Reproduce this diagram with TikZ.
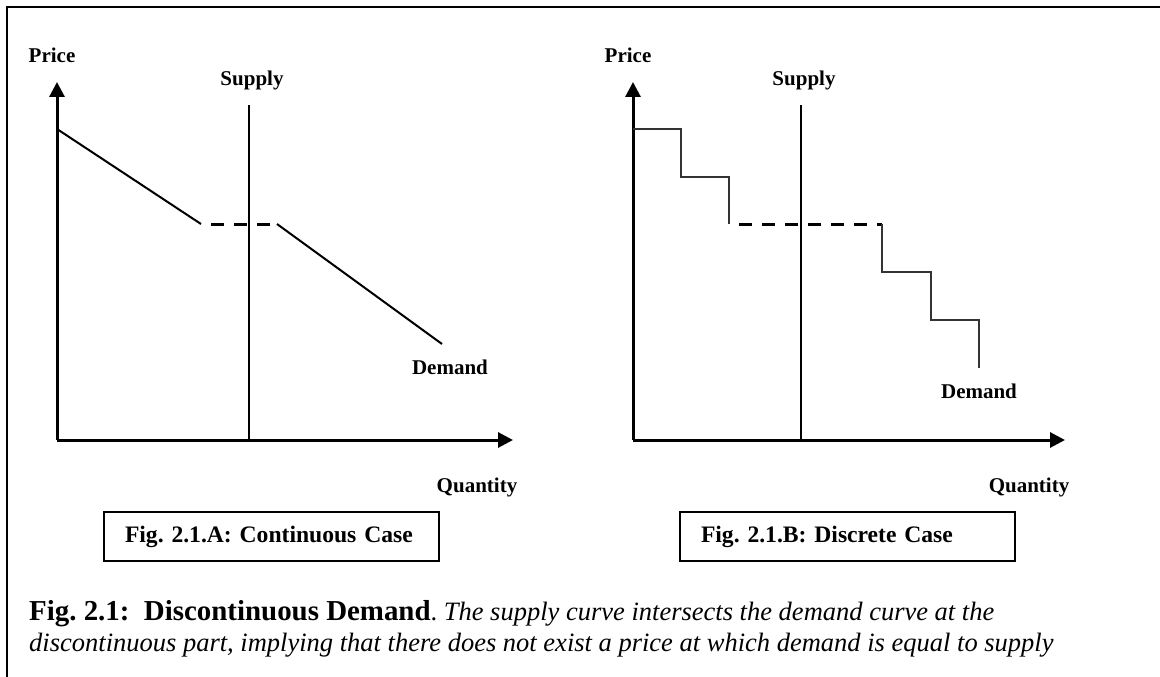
\documentclass[tikz,border=0pt]{standalone}
\usepackage{fontspec}
\setmainfont{Liberation Serif}
\frenchspacing
\usetikzlibrary{arrows.meta, positioning}

\tikzset{
  axis/.style={line width=3pt, -{Triangle[length=15pt,width=15pt]}},
  tag/.style={font=\fontsize{21}{25}\selectfont\bfseries, inner sep=0pt},
  supplyline/.style={line width=1.5pt},
  demandline/.style={line width=2pt},
  stepline/.style={line width=1.4pt, black!80},
  gapline/.style={line width=3pt, dash pattern=on 13pt off 10pt, dash phase=13pt},
  figbox/.style={draw, line width=2pt, font=\fontsize{23.6}{28}\selectfont\bfseries,
    minimum height=49pt, text width=293pt, inner xsep=21pt, align=left},
  captext/.style={anchor=base west, inner sep=0pt}
}

\begin{document}
\begin{tikzpicture}[x=1pt, y=-1pt]
    \useasboundingbox (0,0) rectangle (1160,677);
    % Moldura
    \coordinate (fbl) at (7,677);
    \coordinate (ftl) at (7,7);
    \coordinate (ftr) at (1160,7);
    \draw[line width=2.5pt] (fbl) -- (ftl) -- (ftr);

    % Painel A: caso continuo
    \coordinate (oA) at (57,440);
    \coordinate (yA) at (57,82);
    \coordinate (xA) at (513,440);
    \draw[axis] (oA) -- (yA);
    \draw[axis] (oA) -- (xA);
    \node[tag] (priceA) at (52,55) {Price};
    \node[tag] (quantityA) at (477,487) {Quantity};
    % Oferta
    \coordinate (sA) at (249,105);
    \draw[supplyline] (sA) -- (sA |- oA);
    \node[tag] (supplyA) at (252,80) {Supply};
    % Demanda
    \coordinate (dA1) at (57,129);
    \coordinate (dA2) at (201,224);
    \coordinate (dA3) at (277,224);
    \coordinate (dA4) at (442,344);
    \draw[demandline] (dA1) -- (dA2);
    \draw[gapline] (dA2) -- (dA3);
    \draw[demandline] (dA3) -- (dA4);
    \node[tag] (demandA) at (450,367) {Demand};
    \node[figbox] (boxA) at (271.5,536.5) {Fig. 2.1.A: Continuous Case};

    % Painel B: caso discreto
    \coordinate (oB) at (633,440);
    \coordinate (yB) at (633,82);
    \coordinate (xB) at (1065,440);
    \draw[axis] (oB) -- (yB);
    \draw[axis] (oB) -- (xB);
    \node[tag] (priceB) at (628,55) {Price};
    \node[tag] (quantityB) at (1029,487) {Quantity};
    % Oferta
    \coordinate (sB) at (801,105);
    \draw[line width=2.6pt] (sB) -- (sB |- oB);
    \node[tag] (supplyB) at (804,80) {Supply};
    % Degraus
    \coordinate (dB1) at (633,129);
    \coordinate (dB2) at (729,224);
    \coordinate (dB3) at (882,224);
    \coordinate (dB4) at (979,368);
    \draw[stepline] (dB1) -| (681,177) -| (dB2);
    \draw[gapline] (dB2) -- (dB3);
    \draw[stepline] (dB3) |- (931,272) |- (979,320) -- (dB4);
    \node[tag] (demandB) at (979,391) {Demand};
    \node[figbox] (boxB) at (847.5,536.5) {Fig. 2.1.B: Discrete Case};

    % Legenda
    \node[captext] (cap1) at (29,620) {\fontsize{26.5}{31}\selectfont
      {\fontsize{28.9}{31}\selectfont\bfseries Fig. 2.1:\ \ Discontinuous Demand}.
      \textit{The supply curve intersects the demand curve at the}};
    \node[captext] (cap2) at (29,651) {\fontsize{26.5}{31}\selectfont
      \textit{discontinuous part, implying that there does not exist a price at which demand is equal to supply}};
\end{tikzpicture}
\end{document}
